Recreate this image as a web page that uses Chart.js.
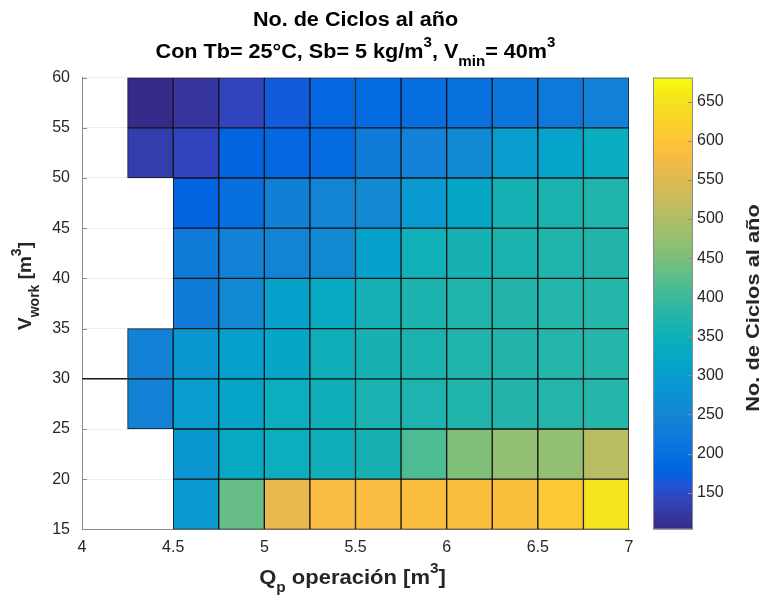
<!DOCTYPE html>
<html>
<head>
<meta charset="utf-8">
<script src="https://cdn.jsdelivr.net/npm/chart.js@4.4.0/dist/chart.umd.min.js"></script>
<style>
  html, body { margin: 0; padding: 0; background: #fff; }
</style>
</head>
<body>
<canvas id="grafico" width="763" height="607"></canvas>
<script>
// Bordes de la malla (pcolor): Q_p en x, V_work en y
const bordesQ = [4.25, 4.5, 4.75, 5, 5.25, 5.5, 5.75, 6, 6.25, 6.5, 6.75, 7];
const bordesV = [60, 55, 50, 45, 40, 35, 30, 25, 20, 15];

// No. de ciclos al año, una fila por franja de V_work (de arriba a abajo)
const ciclos = [
    [105, 120, 142, 168, 185, 190, 198, 205, 212, 222, 238],
    [130, 142, 178, 185, 190, 225, 240, 258, 298, 312, 340],
    [null, 180, 200, 235, 245, 255, 290, 320, 360, 368, 372],
    [null, 225, 240, 245, 258, 310, 355, 362, 368, 372, 375],
    [null, 228, 258, 310, 330, 358, 368, 372, 375, 376, 378],
    [240, 285, 305, 320, 350, 362, 368, 372, 375, 376, 378],
    [242, 295, 318, 345, 350, 365, 370, 372, 375, 376, 378],
    [null, 285, 330, 345, 350, 362, 415, 455, 470, 471, 508],
    [null, 292, 434, 563, 582, 585, 588, 588, 590, 609, 655]
];

// Segmento suelto que aparece en V = 30
const segmentoQ = [4, 4.25];
const segmentoV = [30, 30];

const ticksQ = [4, 4.5, 5, 5.5, 6, 6.5, 7];
const ticksV = [15, 20, 25, 30, 35, 40, 45, 50, 55, 60];
const ticksColor = [150, 200, 250, 300, 350, 400, 450, 500, 550, 600, 650];
const limitesColor = [103, 681];

// Mapa de colores parula (entradas impares del de 64 niveles)
const PARULA = [
    '#352a87', '#3637a0', '#3243ba', '#2053d4', '#0363e1', '#046de0', '#0d75dc', '#127dd8',
    '#1485d4', '#108ed2', '#0998d1', '#06a0cd', '#06a7c6', '#0aacbe', '#15b1b4', '#25b5a9',
    '#38b99e', '#4dbc92', '#65be86', '#7cbf7b', '#92bf73', '#a5be6b', '#b7bd64', '#c8bc5d',
    '#d9ba56', '#e9b94e', '#f8bb44', '#ffc337', '#fcce2e', '#f7d826', '#f5e41d', '#f6f313',
    '#f9fb0e'
];
const posParula = PARULA.map((c, i) => Math.min(2 * i, 63) / 63);

const FAMILIA = "'Liberation Sans', Arial, Helvetica, sans-serif";
const COLOR_TEXTO = '#262626';
const COLOR_EJE = '#8c8c8c';

function hexRgb(h) {
    return [1, 3, 5].map(i => parseInt(h.slice(i, i + 2), 16));
}

function colorParula(v) {
    let t = (v - limitesColor[0]) / (limitesColor[1] - limitesColor[0]);
    t = Math.max(0, Math.min(1, t));
    let k = 0;
    while (k < posParula.length - 2 && posParula[k + 1] < t) k++;
    const f = (t - posParula[k]) / (posParula[k + 1] - posParula[k]);
    const a = hexRgb(PARULA[k]), b = hexRgb(PARULA[k + 1]);
    const c = a.map((x, i) => Math.round(x + (b[i] - x) * f));
    return `rgb(${c[0]},${c[1]},${c[2]})`;
}

// Un dataset de barras flotantes por franja de V_work
const datasetsCeldas = ciclos.map((fila, r) => ({
    type: 'bar',
    data: fila.map((v, c) => v === null ? null : {
        x: (bordesQ[c] + bordesQ[c + 1]) / 2,
        y: [bordesV[r + 1], bordesV[r]],
        v: v
    }).filter(d => d !== null),
    backgroundColor: ctx => ctx.raw ? colorParula(ctx.raw.v) : 'transparent',
    borderColor: '#151515',
    borderWidth: 1,
    borderSkipped: false,
    grouped: false,
    categoryPercentage: 1,
    barPercentage: 1
}));

datasetsCeldas.push({
    type: 'line',
    data: segmentoQ.map((q, i) => ({ x: q, y: segmentoV[i] })),
    borderColor: '#151515',
    borderWidth: 1.5,
    pointRadius: 0
});

// Texto con subíndices / superíndices: partes = [texto, tipo] (1 sub, -1 sup)
// sx estira el texto a lo largo (la figura original sale algo ensanchada)
function textoCompuesto(ctx, partes, x, y, tam, sx = 1) {
    const fuente = s => `bold ${s}px ${FAMILIA}`;
    let ancho = 0;
    const anchos = partes.map(([t, tipo]) => {
        ctx.font = fuente(tipo ? Math.round(tam * 0.72) : tam);
        const w = ctx.measureText(t).width;
        ancho += w;
        return w;
    });
    ctx.save();
    ctx.translate(x, y);
    ctx.scale(sx, 1);
    let xi = -ancho / 2;
    ctx.textAlign = 'left';
    ctx.textBaseline = 'middle';
    partes.forEach(([t, tipo], i) => {
        ctx.font = fuente(tipo ? Math.round(tam * 0.72) : tam);
        const dy = tipo === 1 ? tam * 0.5 : (tipo === -1 ? -tam * 0.45 : 0);
        ctx.fillText(t, xi, dy);
        xi += anchos[i];
    });
    ctx.restore();
}

const pluginTextos = {
    id: 'textos',
    afterDraw(chart) {
        const ctx = chart.ctx;
        const area = chart.chartArea;
        const cx = (area.left + area.right) / 2;
        const sy = chart.scales.y;
        const cb = chart.scales.cb;

        ctx.save();
        // marcas hacia dentro en el eje V
        ctx.strokeStyle = COLOR_EJE;
        ctx.lineWidth = 1;
        ticksV.forEach(v => {
            const py = Math.round(sy.getPixelForValue(v)) + 0.5;
            ctx.beginPath();
            ctx.moveTo(area.left, py);
            ctx.lineTo(area.left + 5, py);
            ctx.stroke();
        });

        // barra de color
        const x0 = cb.left + 24, anchoBarra = 40;
        const grad = ctx.createLinearGradient(0, cb.bottom, 0, cb.top);
        PARULA.forEach((c, i) => grad.addColorStop(posParula[i], c));
        ctx.fillStyle = grad;
        ctx.fillRect(x0, cb.top, anchoBarra, cb.bottom - cb.top);
        ctx.strokeStyle = COLOR_EJE;
        ctx.strokeRect(x0 + 0.5, cb.top + 0.5, anchoBarra - 1, cb.bottom - cb.top - 1);
        ticksColor.forEach(v => {
            const py = Math.round(cb.getPixelForValue(v)) + 0.5;
            ctx.beginPath();
            ctx.moveTo(x0 + anchoBarra - 5, py);
            ctx.lineTo(x0 + anchoBarra, py);
            ctx.stroke();
        });

        // títulos
        ctx.fillStyle = '#000';
        textoCompuesto(ctx, [['No. de Ciclos al año', 0]], cx, 20, 20, 1.08);
        textoCompuesto(ctx, [
            ['Con Tb= 25°C, Sb= 5 kg/m', 0], ['3', -1], [', V', 0], ['min', 1], ['= 40m', 0], ['3', -1]
        ], cx, 52, 20, 1.08);

        ctx.fillStyle = COLOR_TEXTO;
        textoCompuesto(ctx, [['Q', 0], ['p', 1], [' operación [m', 0], ['3', -1], [']', 0]], cx - 3, 578, 20, 1.1);

        ctx.save();
        ctx.translate(26, 286);
        ctx.rotate(-Math.PI / 2);
        textoCompuesto(ctx, [['V', 0], ['work', 1], [' [m', 0], ['3', -1], [']', 0]], 0, 0, 19);
        ctx.restore();

        ctx.save();
        ctx.translate(754, 308);
        ctx.rotate(-Math.PI / 2);
        textoCompuesto(ctx, [['No. de Ciclos al año', 0]], 0, 0, 19, 1.15);
        ctx.restore();

        ctx.restore();
    }
};

const fuenteTicks = { family: FAMILIA, size: 16 };
const etiqueta = v => String(v);

new Chart(document.getElementById('grafico'), {
    type: 'bar',
    data: { datasets: datasetsCeldas },
    options: {
        responsive: false,
        animation: false,
        devicePixelRatio: 1,
        layout: { padding: { top: 77, left: 0, right: 0, bottom: 0 } },
        plugins: {
            legend: { display: false },
            tooltip: { enabled: false }
        },
        scales: {
            x: {
                type: 'linear',
                min: 4,
                max: 7,
                offset: false,
                afterBuildTicks: s => { s.ticks = ticksQ.map(v => ({ value: v })); },
                afterFit: s => { s.height = 77; },
                ticks: { font: fuenteTicks, color: COLOR_TEXTO, padding: 9, maxRotation: 0, callback: etiqueta },
                grid: { display: false, drawTicks: false },
                border: { color: COLOR_EJE, width: 1 }
            },
            y: {
                type: 'linear',
                min: 15,
                max: 60,
                afterBuildTicks: s => { s.ticks = ticksV.map(v => ({ value: v })); },
                afterFit: s => { s.width = 82; },
                ticks: { font: fuenteTicks, color: COLOR_TEXTO, padding: 12, callback: etiqueta },
                grid: { color: '#ededed', drawTicks: false },
                border: { color: COLOR_EJE, width: 1 }
            },
            cb: {
                type: 'linear',
                position: 'right',
                min: limitesColor[0],
                max: limitesColor[1],
                afterBuildTicks: s => { s.ticks = ticksColor.map(v => ({ value: v })); },
                afterFit: s => { s.width = 134; },
                ticks: { font: fuenteTicks, color: COLOR_TEXTO, padding: 68, callback: etiqueta },
                grid: { display: false, drawTicks: false },
                border: { display: false }
            }
        }
    },
    plugins: [pluginTextos]
});
</script>
</body>
</html>
